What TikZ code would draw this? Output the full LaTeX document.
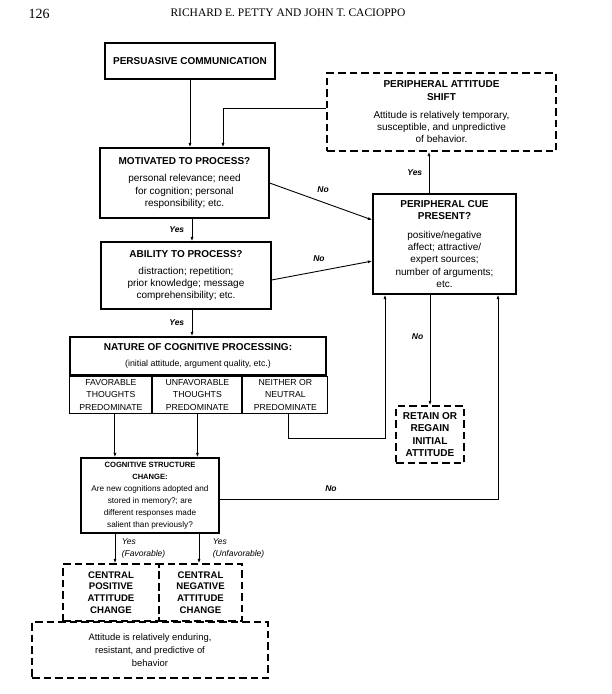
\documentclass[tikz,border=0pt]{standalone}
\usepackage{fontspec}
\setmainfont{Liberation Serif}
\setsansfont{Liberation Sans}
\usetikzlibrary{positioning,arrows.meta}
\tikzset{
	>={Latex[length=4.5pt,width=3pt]}, % small filled arrow heads
	box/.style={draw, line width=1.2pt, inner sep=1pt, align=center, font=\sffamily\fontsize{10}{12.3}\selectfont}, % every solid box
	dashbox/.style={box, dash pattern=on 7.5pt off 4pt}, % the outcome boxes
	cell/.style={box, line width=1pt, font=\sffamily\fontsize{8.7}{12.5}\selectfont}, % the three cells under the processing box
	arr/.style={->, line width=0.9pt}, % connectors
	lab/.style={font=\sffamily\bfseries\itshape\fontsize{8.5}{10}\selectfont}, % Yes / No labels
	sublab/.style={font=\sffamily\itshape\fontsize{8.5}{12}\selectfont, align=left}, % labels under cognitive structure
}
\newcommand{\ttl}[1]{{\bfseries #1}}

\begin{document}
\begin{tikzpicture}[x=1pt,y=-1pt]
		\useasboundingbox (0,0) rectangle (611,694);
		
		% header of the page
		\node[anchor=west, font=\fontsize{14}{14}\selectfont] (pnum) at (25,14) {126};
		\node[font=\fontsize{11.5}{12}\selectfont] (head) at (288,13) {RICHARD E. PETTY AND JOHN T. CACIOPPO};
		
		% boxes
		\node[box, minimum width=170pt, minimum height=36pt] (pers) at (190,61) {\ttl{PERSUASIVE COMMUNICATION}};
		\node[dashbox, minimum width=229pt, minimum height=78pt] (pas) at (441.5,112) {\ttl{PERIPHERAL ATTITUDE}\\ \ttl{SHIFT}\\[6pt] Attitude is relatively temporary,\\ susceptible, and unpredictive\\ of behavior.};
		\node[box, minimum width=169pt, minimum height=70pt] (motiv) at (184.5,183) {\ttl{MOTIVATED TO PROCESS?}\\[5pt] personal relevance; need\\ for cognition; personal\\ responsibility; etc.};
		\node[box, minimum width=143pt, minimum height=100pt] (pcp) at (444.5,244) {\ttl{PERIPHERAL CUE}\\ \ttl{PRESENT?}\\[6pt] positive/negative\\ affect; attractive/\\ expert sources;\\ number of arguments;\\ etc.};
		\node[box, minimum width=170pt, minimum height=67pt] (abil) at (186,275.5) {\ttl{ABILITY TO PROCESS?}\\[5pt] distraction; repetition;\\ prior knowledge; message\\ comprehensibility; etc.};
		\node[box, minimum width=256pt, minimum height=38pt] (nature) at (198,356) {\ttl{NATURE OF COGNITIVE PROCESSING:}\\[4pt] {\fontsize{8.8}{11}\selectfont (initial attitude, argument quality, etc.)}};
		\node[cell, minimum width=82pt, minimum height=37pt, below right=0pt of nature.south west, anchor=north west] (fav) {FAVORABLE\\ THOUGHTS\\ PREDOMINATE};
		\node[cell, minimum width=89pt, minimum height=37pt, right=0pt of fav] (unfav) {UNFAVORABLE\\ THOUGHTS\\ PREDOMINATE};
		\node[cell, minimum width=85pt, minimum height=37pt, right=0pt of unfav] (neith) {NEITHER OR\\ NEUTRAL\\ PREDOMINATE};
		\node[dashbox, minimum width=68pt, minimum height=57pt] (retain) at (430,434.5) {\ttl{RETAIN OR}\\ \ttl{REGAIN}\\ \ttl{INITIAL}\\ \ttl{ATTITUDE}};
		\node[box, minimum width=138pt, minimum height=75pt, font=\sffamily\fontsize{8.2}{12}\selectfont] (cog) at (150,495.5) {{\fontsize{7.6}{12}\selectfont\ttl{COGNITIVE STRUCTURE}}\\ {\fontsize{7.6}{12}\selectfont\ttl{CHANGE:}}\\ Are new cognitions adopted and\\ stored in memory?; are\\ different responses made\\ salient than previously?};
		\node[dashbox, minimum width=96pt, minimum height=57pt, font=\sffamily\fontsize{9.6}{11.7}\selectfont] (cpos) at (111,592.5) {\ttl{CENTRAL}\\ \ttl{POSITIVE}\\ \ttl{ATTITUDE}\\ \ttl{CHANGE}};
		\node[dashbox, minimum width=83pt, minimum height=57pt, font=\sffamily\fontsize{9.6}{11.7}\selectfont] (cneg) at (200.5,592.5) {\ttl{CENTRAL}\\ \ttl{NEGATIVE}\\ \ttl{ATTITUDE}\\ \ttl{CHANGE}};
		\node[dashbox, minimum width=236pt, minimum height=56pt, font=\sffamily\fontsize{9.4}{13}\selectfont] (endur) at (150,650) {Attitude is relatively enduring,\\ resistant, and predictive of\\ behavior};
		
		% connectors
		\draw[arr] (pers.south) -- (pers.south |- motiv.north);
		\draw[arr] ([yshift=4pt]pas.west) -| ([xshift=38.5pt]motiv.north);
		\draw[arr] ([xshift=7.5pt]motiv.south) -- node[lab,left=4pt]{Yes} ([xshift=7.5pt]motiv.south |- abil.north);
		\draw[arr] ([xshift=6pt]abil.south) -- node[lab,left=4pt]{Yes} ([xshift=6pt]abil.south |- nature.north);
		\draw[arr] (motiv.east) -- node[lab,pos=0.52,above=6pt]{No} ([yshift=24pt]pcp.west);
		\draw[arr] ([yshift=-4.5pt]abil.east) -- node[lab,pos=0.47,above=6pt]{No} ([yshift=-17pt]pcp.west);
		\draw[arr] ([xshift=-15.5pt]pcp.north) -- node[lab,left=3pt]{Yes} ([xshift=-15.5pt]pcp.north |- pas.south);
		\draw[arr] (pcp.south -| retain.north) -- node[lab,pos=0.38,left=3pt]{No} (retain.north);
		\draw[arr] ([xshift=3.5pt]neith.south) -- ++(0,25) -| ([xshift=-59.5pt]pcp.south);
		\draw[arr] ([xshift=4pt]fav.south) -- ([xshift=4pt]fav.south |- cog.north);
		\draw[arr] (unfav.south) -- (unfav.south |- cog.north);
		\draw[arr] ([yshift=-3.5pt]cog.east) -| node[lab,pos=0.2,above=4pt]{No} ([xshift=53.5pt]pcp.south);
		\draw[arr] ([xshift=-35pt]cog.south) -- node[sublab,right=3pt]{Yes\\(Favorable)} ([xshift=-35pt]cog.south |- cpos.north);
		\draw[arr] ([xshift=49pt]cog.south) -- node[sublab,right=10pt]{Yes\\(Unfavorable)} ([xshift=49pt]cog.south |- cneg.north);
		
	\end{tikzpicture}
\end{document}
